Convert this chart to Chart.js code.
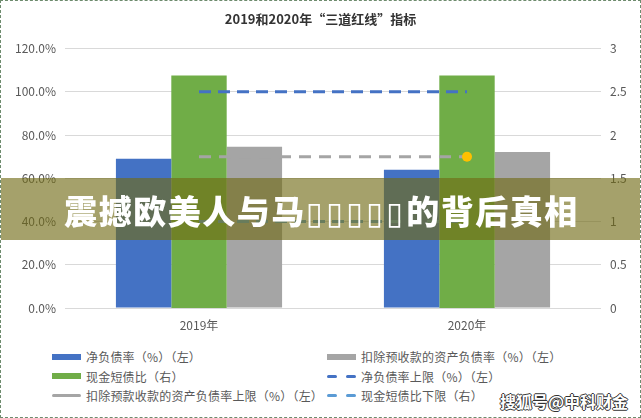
<!DOCTYPE html>
<html>
<head>
<meta charset="utf-8">
<script src="https://cdn.jsdelivr.net/npm/chart.js@4.4.1/dist/chart.umd.min.js"></script>
<style>
    html, body { margin: 0; padding: 0; background: #fff; }
    #frame {
        position: relative;
        width: 639px;
        height: 416px;
        border: 1px dashed #6d8b6d;
        overflow: hidden;
        font-family: "Noto Sans CJK SC", "Noto Sans", sans-serif;
    }
    #chartBox { position: absolute; left: 0; top: 0; width: 639px; height: 337px; }
    #legend {
        position: absolute;
        left: 51px;
        top: 347px;
        display: grid;
        grid-template-columns: 275px 260px;
        row-gap: 2px;
        font-size: 12px;
        color: #595959;
    }
    .item { display: flex; align-items: center; height: 17.5px; white-space: nowrap; letter-spacing: 0.2px; }
    .mark { width: 29px; margin-right: 5px; display: flex; align-items: center; justify-content: space-between; }
    .box { width: 29px; height: 6px; }
    .solid { width: 29px; height: 3px; border-radius: 2px; }
    .dash { width: 10px; height: 3px; border-radius: 2px; }
    #banner {
        position: absolute;
        left: -1px;
        top: 177px;
        width: 643px;
        height: 62px;
        background: rgba(112, 106, 20, 0.63);
        color: #fff;
        font-size: 33px;
        font-weight: 900;
        line-height: 64px;
        text-align: center;
        letter-spacing: 1.5px;
    }
    #banner .tofu { font-family: "DejaVu Sans"; font-weight: normal; font-size: 31px; letter-spacing: 3px; }
    #mark {
        position: absolute;
        right: 12px;
        top: 388px;
        font-size: 16px;
        font-weight: bold;
        color: #fff;
        text-shadow: -1px 0 #333, 1px 0 #333, 0 -1px #333, 0 1px #333;
    }
</style>
</head>
<body>
<div id="frame">
    <div id="chartBox"><canvas id="chart"></canvas></div>
    <div id="legend"></div>
    <div id="banner">震撼欧美人与马<span class="tofu">▯▯▯▯▯</span>的背后真相</div>
    <div id="mark">搜狐号@中科财金</div>
</div>
<script>
// Categories and series
const categories = ['2019年', '2020年'];
const netDebtRatio = [69.0, 63.9];          // 净负债率 (%) left
const cashShortDebt = [2.69, 2.69];         // 现金短债比 right
const assetLiability = [74.6, 72.2];        // 扣除预收款的资产负债率 (%) left
const netDebtCap = [100, 100];              // 净负债率上限
const assetLiabilityCap = [70, 70];         // 资产负债率上限
const cashShortDebtFloor = [1, 1];          // 现金短债比下限

const leftTicks = [0, 20, 40, 60, 80, 100, 120];
const rightTicks = [0, 0.5, 1, 1.5, 2, 2.5, 3];

// legend layout: two columns, read row by row
const legendOrder = [0, 2, 1, 3, 4, 5];

const blue = '#4472C4';
const green = '#70AD47';
const gray = '#A5A5A5';
const lightBlue = '#5B9BD5';
const yellow = '#FFC000';

const datasets = [
    {
        type: 'bar', label: '净负债率（%）（左）', data: netDebtRatio,
        backgroundColor: blue, yAxisID: 'y', order: 1, legendKind: 'box'
    },
    {
        type: 'bar', label: '现金短债比（右）', data: cashShortDebt,
        backgroundColor: green, yAxisID: 'y1', order: 1, legendKind: 'box'
    },
    {
        type: 'bar', label: '扣除预收款的资产负债率（%）（左）', data: assetLiability,
        backgroundColor: gray, yAxisID: 'y', order: 1, legendKind: 'box'
    },
    {
        type: 'line', label: '净负债率上限（%）（左）', data: netDebtCap,
        borderColor: blue, borderWidth: 3, borderDash: [12, 7], pointRadius: 0,
        yAxisID: 'y', order: 0, legendKind: 'dash'
    },
    {
        type: 'line', label: '扣除预款收款的资产负债率上限（%）（左）', data: assetLiabilityCap,
        borderColor: gray, borderWidth: 3, borderDash: [12, 8],
        pointRadius: [0, 5], pointBorderWidth: 0, pointBackgroundColor: yellow,
        yAxisID: 'y', order: 0, legendKind: 'solid'
    },
    {
        type: 'line', label: '现金短债比下限（右）', data: cashShortDebtFloor,
        borderColor: lightBlue, borderWidth: 3, borderDash: [12, 7], pointRadius: 0,
        yAxisID: 'y1', order: 0, legendKind: 'dash'
    }
];

const tickFont = { family: '"Noto Sans CJK SC", "Liberation Sans", sans-serif', size: 12 };

const chart = new Chart(document.getElementById('chart'), {
    type: 'bar',
    data: { labels: categories, datasets: datasets },
    options: {
        responsive: true,
        maintainAspectRatio: false,
        animation: false,
        datasets: { bar: { categoryPercentage: 0.62, barPercentage: 1 } },
        layout: { padding: 0 },
        plugins: {
            legend: { display: false },
            tooltip: { enabled: false },
            title: {
                display: true,
                text: '2019和2020年“三道红线”指标',
                color: '#333',
                font: { family: '"Noto Sans CJK SC", sans-serif', size: 13, weight: 'bold' },
                padding: { top: 10, bottom: 22 }
            }
        },
        scales: {
            x: {
                grid: { display: false, drawTicks: false },
                border: { display: false },
                ticks: { color: '#595959', font: tickFont, padding: 10 },
                afterFit: s => { s.height = 30; }
            },
            y: {
                position: 'left',
                min: 0, max: 120,
                afterBuildTicks: s => { s.ticks = leftTicks.map(v => ({ value: v })); },
                ticks: {
                    color: '#595959', font: tickFont, padding: 9,
                    callback: v => v.toFixed(1) + '%'
                },
                grid: { color: '#d9d9d9', lineWidth: 1, drawTicks: false },
                border: { display: false },
                afterFit: s => { s.width = 64; }
            },
            y1: {
                position: 'right',
                min: 0, max: 3,
                afterBuildTicks: s => { s.ticks = rightTicks.map(v => ({ value: v })); },
                ticks: { color: '#595959', font: tickFont, padding: 9, callback: v => String(v) },
                grid: { display: false, drawTicks: false },
                border: { display: false },
                afterFit: s => { s.width = 39; }
            }
        }
    }
});

// Build the two-column legend from the chart's datasets
const legendEl = document.getElementById('legend');
legendOrder.forEach(i => {
    const ds = chart.data.datasets[i];
    const item = document.createElement('div');
    item.className = 'item';
    const mark = document.createElement('span');
    mark.className = 'mark';
    const color = ds.type === 'bar' ? ds.backgroundColor : ds.borderColor;
    if (ds.legendKind === 'box') {
        mark.innerHTML = `<span class="box" style="background:${color}"></span>`;
    } else if (ds.legendKind === 'solid') {
        mark.innerHTML = `<span class="solid" style="background:${color}"></span>`;
    } else {
        mark.innerHTML = `<span class="dash" style="background:${color}"></span><span class="dash" style="background:${color}"></span>`;
    }
    const text = document.createElement('span');
    text.textContent = ds.label;
    item.appendChild(mark);
    item.appendChild(text);
    legendEl.appendChild(item);
});
</script>
</body>
</html>
